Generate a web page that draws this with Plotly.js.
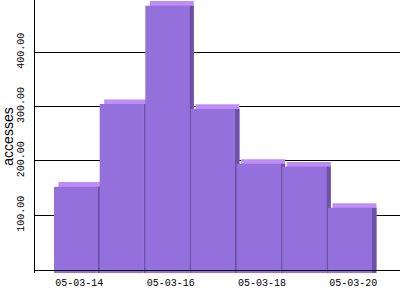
<!DOCTYPE html>
<html>
<head>
<meta charset="utf-8">
<script src="https://cdn.plot.ly/plotly-3.0.1.min.js"></script>
<style>html,body{margin:0;padding:0;background:#fff;}#chart{width:400px;height:300px;}</style>
</head>
<body>
<div id="chart"></div>
<script>
// Data
const days = ['05-03-14','05-03-15','05-03-16','05-03-17','05-03-18','05-03-19','05-03-20'];
const accesses = [161, 313, 494, 304, 203, 198, 122];
const shownTicks = ['05-03-14','05-03-16','05-03-18','05-03-20'];
const yTicks = [100, 200, 300, 400];

// 3D look parameters (style only)
const depthY = 8.5;        // vertical shift of front face, in y units
const frontOffset = -0.554;
const frontWidth = 0.963;
const shiftX = 0.0985;     // horizontal depth in category units

const back = {
  type: 'bar', x: days, y: accesses, base: 0,
  offset: frontOffset + shiftX, width: frontWidth,
  marker: {color: '#BE8EF6', line: {width: 0}},
  cliponaxis: false, hoverinfo: 'skip'
};
const side = {
  type: 'bar', x: days, y: accesses, base: -depthY,
  offset: frontOffset + frontWidth, width: shiftX,
  marker: {color: '#6D52A6', line: {width: 0}},
  cliponaxis: false, hoverinfo: 'skip'
};
const front = {
  type: 'bar', x: days, y: accesses, base: -depthY,
  offset: frontOffset, width: frontWidth,
  marker: {color: '#9370DB', line: {width: 0}},
  cliponaxis: false
};

const tickFont = {family: 'Liberation Mono', size: 10, color: '#000'};

const layout = {
  width: 400, height: 300,
  margin: {l: 35, r: 0, t: 0, b: 27, pad: 0},
  paper_bgcolor: '#fff', plot_bgcolor: '#fff',
  showlegend: false, barmode: 'overlay',
  font: tickFont,
  xaxis: {
    type: 'category', range: [-0.970, 7.022],
    anchor: 'free', position: 6.4 / 502.4,
    tickvals: shownTicks, ticktext: shownTicks,
    ticks: '', showgrid: false, zeroline: false,
    showline: true, linecolor: '#000', linewidth: 1,
    layer: 'above traces', ticklabelstandoff: 3,
    tickfont: tickFont
  },
  yaxis: {
    range: [-6.4, 496],
    tickvals: yTicks, ticktext: yTicks.map(v => v.toFixed(2)),
    tickangle: -90, ticks: '', ticklabelstandoff: 6,
    showgrid: true, gridcolor: '#000', gridwidth: 1,
    zeroline: false, showline: true, linecolor: '#000', linewidth: 1,
    tickfont: tickFont,
    title: {text: 'accesses', standoff: 3, font: {family: 'Liberation Sans', size: 14, color: '#000'}}
  }
};

Plotly.newPlot('chart', [back, side, front], layout, {staticPlot: true, displayModeBar: false});
</script>
</body>
</html>
